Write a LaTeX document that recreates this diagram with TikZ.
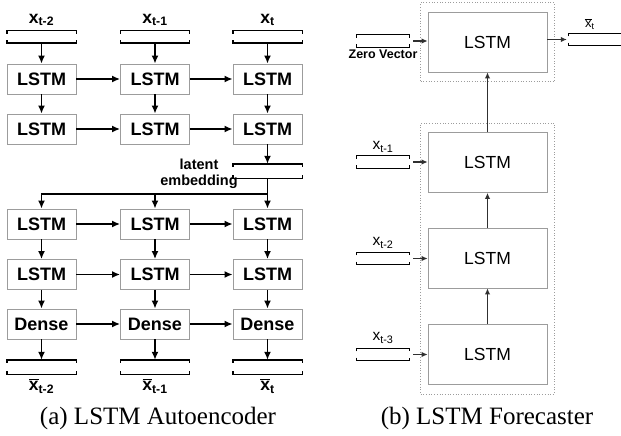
\documentclass[tikz,border=0pt]{standalone}
\usepackage{fontspec}
\setmainfont{Liberation Serif}
\setsansfont{Liberation Sans}
\usepackage{tikz}
\usetikzlibrary{positioning,arrows.meta,calc,fit}
\definecolor{boxgray}{HTML}{9C9C9C}
\definecolor{arrgray}{HTML}{303030}

% open-sided vector bracket drawn round an (empty) node
\newcommand{\vecmark}[2][]{%
  \draw[vecl,#1] ([yshift=-3pt]#2.north west) -- (#2.north west) -- (#2.north east) -- ([yshift=-3pt]#2.north east)
    ([yshift=3pt]#2.south west) -- (#2.south west) -- (#2.south east) -- ([yshift=3pt]#2.south east);}
% x with a bar, for the reconstructed / forecast outputs
\newcommand{\xbar}{x\kern-0.55em\raisebox{0.62em}{\rule{0.55em}{0.06em}}}

\begin{document}
\begin{tikzpicture}[x=1pt, y=-1pt,
    lbox/.style={draw=boxgray, fill=white, line width=0.8pt, minimum width=69pt,
                 minimum height=30pt, inner sep=0pt,
                 font=\sffamily\bfseries\fontsize{18}{20}\selectfont},
    vecn/.style={minimum width=69pt, minimum height=12pt, inner sep=0pt},
    vecl/.style={line width=1.4pt, black},
    fl/.style={-{Latex[length=8pt,width=7pt]}, line width=1.6pt},
    lab/.style={font=\sffamily\bfseries\fontsize{17.5}{19}\selectfont, inner sep=0pt},
    rbox/.style={draw=boxgray, line width=0.8pt, minimum width=119pt,
                 minimum height=60pt, inner sep=0pt,
                 font=\sffamily\fontsize{17.5}{20}\selectfont},
    rvec/.style={minimum width=52pt, minimum height=12pt, inner sep=0pt},
    rfl/.style={-{Latex[length=6pt,width=5.5pt]}, line width=1.2pt, arrgray},
    grp/.style={draw=boxgray, dotted, line width=0.7pt},
    rlab/.style={font=\sffamily\fontsize{15.5}{17}\selectfont, inner sep=0pt},
    captxt/.style={font=\fontsize{25}{28}\selectfont},
  ]
    \useasboundingbox (0,0) rectangle (621,436);

    % (a) autoencoder: inputs and encoder
    \node[lab] (lin1) at (41.5,20) {x\textsubscript{t-2}};
    \node[lab] (lin2) at (155,20) {x\textsubscript{t-1}};
    \node[lab] (lin3) at (267.5,20) {x\textsubscript{t}};
    \node[vecn] (in1) at (41.5,37) {};
    \node[vecn] (in2) at (155,37) {};
    \node[vecn] (in3) at (267.5,37) {};
    \vecmark{in1} \vecmark{in2} \vecmark{in3}
    \node[lbox] (e11) at (41.5,79) {LSTM};
    \node[lbox] (e12) at (155,79) {LSTM};
    \node[lbox] (e13) at (267.5,79) {LSTM};
    \node[lbox] (e21) at (41.5,129) {LSTM};
    \node[lbox] (e22) at (155,129) {LSTM};
    \node[lbox] (e23) at (267.5,129) {LSTM};
    \draw[fl] (in1)--(e11); \draw[fl] (in2)--(e12); \draw[fl] (in3)--(e13);
    \draw[fl] (e11)--(e21); \draw[fl] (e12)--(e22); \draw[fl] (e13)--(e23);
    \draw[fl] (e11)--(e12); \draw[fl] (e12)--(e13);
    \draw[fl] (e21)--(e22); \draw[fl] (e22)--(e23);

    % latent embedding, copied to every decoder step
    \node[vecn, minimum height=14pt] (lat) at (267.5,171) {};
    \vecmark{lat}
    \node[lab, font=\sffamily\bfseries\fontsize{14.5}{16}\selectfont, align=center]
       (latlab) at (199,174) {latent\\embedding};
    \draw[fl] (e23)--(lat);

    % decoder
    \node[lbox] (d11) at (41.5,224) {LSTM};
    \node[lbox] (d12) at (155,224) {LSTM};
    \node[lbox] (d13) at (267.5,224) {LSTM};
    \node[lbox] (d21) at (41.5,274.5) {LSTM};
    \node[lbox] (d22) at (155,274.5) {LSTM};
    \node[lbox] (d23) at (267.5,274.5) {LSTM};
    \node[lbox] (o1) at (41.5,324) {Dense};
    \node[lbox] (o2) at (155,324) {Dense};
    \node[lbox] (o3) at (267.5,324) {Dense};
    \coordinate (jn) at (267.5,194);
    \draw[fl] (lat.south)--(d13.north);
    \draw[fl] (jn) -| (d11.north);
    \draw[fl] (jn -| d12.north)--(d12.north);
    \draw[fl] (d11)--(d21); \draw[fl] (d12)--(d22); \draw[fl] (d13)--(d23);
    \draw[fl] (d21)--(o1); \draw[fl] (d22)--(o2); \draw[fl] (d23)--(o3);
    \draw[fl] (d11)--(d12); \draw[fl] (d12)--(d13);
    \draw[fl] (d21)--(d22); \draw[fl] (d22)--(d23);
    \draw[fl] (o1)--(o2); \draw[fl] (o2)--(o3);
    \node[vecn, minimum height=14pt] (out1) at (41.5,367) {};
    \node[vecn, minimum height=14pt] (out2) at (155,367) {};
    \node[vecn, minimum height=14pt] (out3) at (267.5,367) {};
    \vecmark{out1} \vecmark{out2} \vecmark{out3}
    \draw[fl] (o1)--(out1); \draw[fl] (o2)--(out2); \draw[fl] (o3)--(out3);
    \node[lab] (lout1) at (41.5,386) {\xbar\textsubscript{t-2}};
    \node[lab] (lout2) at (155,386) {\xbar\textsubscript{t-1}};
    \node[lab] (lout3) at (267.5,386) {\xbar\textsubscript{t}};

    % (b) forecaster
    \node[rbox] (f0) at (487.5,42) {LSTM};
    \node[rbox] (f1) at (487.5,162.5) {LSTM};
    \node[rbox] (f2) at (487.5,258) {LSTM};
    \node[rbox] (f3) at (487.5,354.5) {LSTM};
    \node[grp, fit=(f0), inner xsep=7pt, inner ysep=9pt] (g0) {};
    \node[grp, fit=(f1)(f3), inner xsep=7pt, inner ysep=9pt] (g1) {};
    \draw[rfl] (f3)--(f2); \draw[rfl] (f2)--(f1); \draw[rfl] (f1)--(f0);

    \node[rvec] (zv) at (383,41) {};
    \node[rvec] (v1) at (383,162) {};
    \node[rvec] (v2) at (383,258.5) {};
    \node[rvec] (v3) at (383,354.5) {};
    \vecmark[line width=1.1pt]{zv} \vecmark[line width=1.1pt]{v1}
    \vecmark[line width=1.1pt]{v2} \vecmark[line width=1.1pt]{v3}
    \node[rlab, font=\sffamily\bfseries\fontsize{12.5}{14}\selectfont] (zvlab) at (383,54) {Zero Vector};
    \node[rlab] (v1lab) at (383,147) {x\textsubscript{t-1}};
    \node[rlab] (v2lab) at (383,243) {x\textsubscript{t-2}};
    \node[rlab] (v3lab) at (383,338) {x\textsubscript{t-3}};
    \draw[rfl] ([xshift=4pt]zv.east)--(f0.west |- zv.east);
    \draw[rfl] ([xshift=4pt]v1.east)--(f1.west |- v1.east);
    \draw[rfl] ([xshift=4pt]v2.east)--(f2.west |- v2.east);
    \draw[rfl] ([xshift=4pt]v3.east)--(f3.west |- v3.east);

    \node[rvec] (fout) at (595,39.5) {};
    \vecmark[line width=1.1pt]{fout}
    \node[rlab, font=\sffamily\fontsize{13}{15}\selectfont] (foutlab) at (590,24) {\xbar\textsubscript{t}};
    \draw[rfl] (f0.east |- fout.west)--([xshift=-2pt]fout.west);

    % captions
    \node[captxt] (capa) at (158,418) {(a) LSTM Autoencoder};
    \node[captxt] (capb) at (487,418) {(b) LSTM Forecaster};
  \end{tikzpicture}
\end{document}
